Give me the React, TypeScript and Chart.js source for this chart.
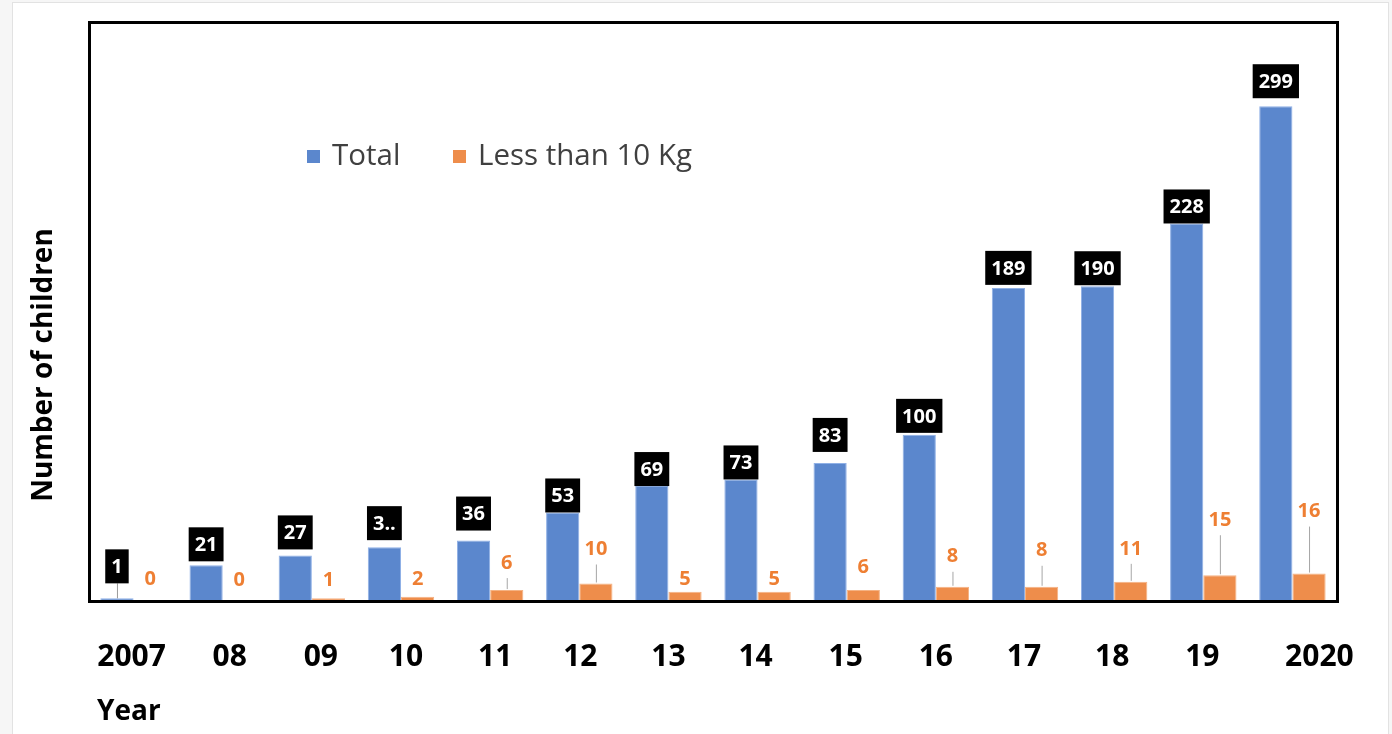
import React, { useEffect, useRef } from "react";
import { Chart, registerables } from "chart.js";

Chart.register(...registerables);

// ---- data ----
const years = ["2007", "08", "09", "10", "11", "12", "13", "14", "15", "16", "17", "18", "19", "2020"];
const totalChildren = [1, 21, 27, 32, 36, 53, 69, 73, 83, 100, 189, 190, 228, 299];
const totalLabels = ["1", "21", "27", "3..", "36", "53", "69", "73", "83", "100", "189", "190", "228", "299"];
const under10Kg = [0, 0, 1, 2, 6, 10, 5, 5, 6, 8, 8, 11, 15, 16];
const seriesNames = ["Total", "Less than 10 Kg"];
const yTitle = "Number of children";
const xTitle = "Year";
const Y_MAX = 350;

// ---- label layout (pixels) ----
const yearNudge = [-2, 7, 9, 5, 5, 1, 0, -2, -1, 0, -1, -2, -1, 27];
const totalBoxGap = [15, 4, 6, 7, 10, 0, 0, 0, 11, 2, 3, 1, 0, 8];
const orangeLift = [21, 20, 18, 17, 27, 34, 12, 12, 23, 30, 36, 33, 55, 62];
const orangeLeader = [false, false, false, false, true, true, false, false, false, true, true, true, true, true];

const BLUE = "#5B87CD";
const ORANGE = "#EE8D4B";
const ORANGE_TEXT = "#EE7F33";
const FONT = "'Open Sans', 'DejaVu Sans', sans-serif";

const decorations = {
  id: "decorations",
  beforeDraw(chart: any) {
    const { ctx, width, height } = chart;
    ctx.save();
    ctx.fillStyle = "#f6f6f6";
    ctx.fillRect(0, 0, width, height);
    ctx.fillStyle = "#ffffff";
    ctx.fillRect(13, 3, 1375, height);
    ctx.strokeStyle = "#e2e2e2";
    ctx.lineWidth = 1;
    ctx.strokeRect(12.5, 2.5, 1376, height + 10);
    ctx.restore();
  },
  beforeDatasetsDraw(chart: any) {
    const { ctx, chartArea: a } = chart;
    ctx.save();
    ctx.strokeStyle = "#000";
    ctx.lineWidth = 3;
    ctx.strokeRect(a.left + 0.5, a.top + 0.5, a.right - a.left, a.bottom - a.top + 1);
    ctx.restore();
  },
  afterDatasetsDraw(chart: any) {
    const { ctx } = chart;
    const blueBars = chart.getDatasetMeta(0).data;
    const orangeBars = chart.getDatasetMeta(1).data;
    ctx.save();
    ctx.textAlign = "center";
    ctx.textBaseline = "middle";

    // boxed totals
    ctx.font = `bold 20px ${FONT}`;
    blueBars.forEach((bar: any, i: number) => {
      const text = totalLabels[i];
      const w = ctx.measureText(text).width + 12;
      const h = 34;
      const bottom = bar.y - totalBoxGap[i];
      if (totalBoxGap[i] >= 14) {
        ctx.strokeStyle = "#9a9a9a";
        ctx.lineWidth = 1;
        ctx.beginPath();
        ctx.moveTo(bar.x + 0.5, bottom);
        ctx.lineTo(bar.x + 0.5, bar.y);
        ctx.stroke();
      }
      ctx.fillStyle = "#000";
      ctx.fillRect(bar.x - w / 2, bottom - h, w, h);
      ctx.fillStyle = "#fff";
      ctx.fillText(text, bar.x, bottom - h / 2 + 1);
    });

    // orange values
    ctx.font = `bold 20px ${FONT}`;
    orangeBars.forEach((bar: any, i: number) => {
      const cy = bar.y - orangeLift[i];
      if (orangeLeader[i]) {
        ctx.strokeStyle = "#a6a6a6";
        ctx.lineWidth = 1;
        ctx.beginPath();
        ctx.moveTo(bar.x + 0.5, cy + 15);
        ctx.lineTo(bar.x + 0.5, bar.y - 1);
        ctx.stroke();
      }
      ctx.fillStyle = ORANGE_TEXT;
      ctx.fillText(String(under10Kg[i]), bar.x, cy);
    });

    // legend inside the plot
    const legendY = 157;
    const items = [
      { x: 307, color: BLUE, text: seriesNames[0] },
      { x: 453, color: ORANGE, text: seriesNames[1] },
    ];
    ctx.font = `29.5px ${FONT}`;
    ctx.textAlign = "left";
    items.forEach((it) => {
      ctx.fillStyle = it.color;
      ctx.fillRect(it.x, legendY - 7, 13, 13);
      ctx.fillStyle = "#404040";
      ctx.fillText(it.text, it.x + 25, legendY);
    });

    // category labels
    const xScale = chart.scales.x;
    ctx.font = `bold 30px ${FONT}`;
    ctx.textAlign = "center";
    ctx.fillStyle = "#000";
    years.forEach((y, i) => {
      ctx.fillText(y, xScale.getPixelForValue(i) + yearNudge[i], 657);
    });

    // axis titles
    ctx.font = `bold 28px ${FONT}`;
    ctx.textAlign = "left";
    ctx.fillText(xTitle, 97, 712);

    ctx.translate(44, 365);
    ctx.rotate(-Math.PI / 2);
    ctx.textAlign = "center";
    ctx.fillText(yTitle, 0, 0);
    ctx.restore();
  },
};

export default function App() {
  const canvasRef = useRef<HTMLCanvasElement | null>(null);

  useEffect(() => {
    const canvas = canvasRef.current;
    if (!canvas) return;
    const chart = new Chart(canvas, {
      type: "bar",
      data: {
        labels: years,
        datasets: [
          {
            label: seriesNames[0],
            data: totalChildren,
            backgroundColor: BLUE,
            borderColor: "#8FB0E6",
            borderWidth: 1,
            barPercentage: 1,
            categoryPercentage: 0.745,
          },
          {
            label: seriesNames[1],
            data: under10Kg,
            backgroundColor: ORANGE,
            borderColor: "#F5B283",
            borderWidth: 1,
            barPercentage: 1,
            categoryPercentage: 0.745,
          },
        ],
      },
      options: {
        responsive: false,
        animation: false,
        devicePixelRatio: 1,
        layout: { padding: { left: 89, right: 55, top: 22, bottom: 134 } },
        plugins: {
          legend: { display: false },
          tooltip: { enabled: false },
        },
        scales: {
          x: { display: false },
          y: { display: false, min: 0, max: Y_MAX },
        },
      },
      plugins: [decorations],
    });
    return () => chart.destroy();
  }, []);

  return (
    <div style={{ position: "fixed", left: 0, top: 0, width: 1392, height: 734, background: "#fff" }}>
      <canvas ref={canvasRef} width={1392} height={734} style={{ display: "block" }} />
    </div>
  );
}
